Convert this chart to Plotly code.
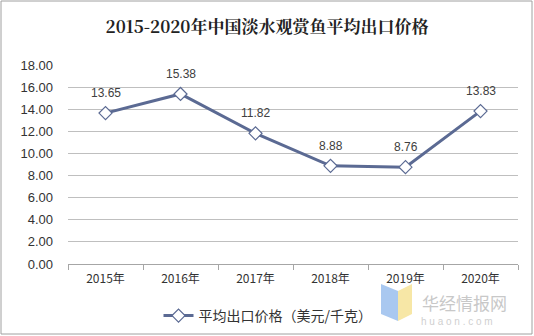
import plotly.graph_objects as go

years = ["2015年", "2016年", "2017年", "2018年", "2019年", "2020年"]
prices = [13.65, 15.38, 11.82, 8.88, 8.76, 13.83]
labels = ["13.65", "15.38", "11.82", "8.88", "8.76", "13.83"]
y_ticks = [0, 2, 4, 6, 8, 10, 12, 14, 16, 18]
series_name = "平均出口价格（美元/千克）"

W, H = 534, 336
L, R, T, B = 68, 16, 65, 72
pw, ph = W - L - R, H - T - B

def px_x(p):
    return (p - L) / pw

def px_y(p):
    return (H - B - p) / ph

line_color = "#5B6A93"
font = "Liberation Sans, Arial, sans-serif"
cjk = "Noto Sans CJK SC, sans-serif"

fig = go.Figure()
fig.add_trace(go.Scatter(
    x=years, y=prices, mode="lines+markers",
    name=series_name,
    line=dict(color=line_color, width=3),
    marker=dict(symbol="diamond", size=10, color="white",
                line=dict(color=line_color, width=1.2)),
    cliponaxis=False,
))

annotations = [
    dict(x=xv, y=yv, text=t, xref="x", yref="y", showarrow=False,
         yshift=20, font=dict(family=font, size=12, color="#404040"))
    for xv, yv, t in zip(years, prices, labels)
]
annotations += [
    dict(text="华经情报网", xref="paper", yref="paper",
         x=px_x(421), xanchor="left", y=px_y(289), yanchor="top",
         showarrow=False, borderpad=0,
         font=dict(family=cjk, size=17, color="#C8C8C8")),
    dict(text="h u a o n . c o m", xref="paper", yref="paper",
         x=px_x(420), xanchor="left", y=px_y(315), yanchor="top",
         showarrow=False, borderpad=0,
         font=dict(family=font, size=10, color="#D0D0D0")),
]

fig.update_layout(
    width=W, height=H,
    margin=dict(l=L, r=R, t=T, b=B, autoexpand=False),
    paper_bgcolor="white", plot_bgcolor="white",
    title=dict(text="<b>2015-2020年中国淡水观赏鱼平均出口价格</b>",
               x=0.5, xanchor="center", y=1 - 27 / H, yanchor="middle",
               font=dict(family="Noto Serif CJK SC, Noto Sans CJK SC, serif", size=17, color="#222222")),
    showlegend=True,
    legend=dict(orientation="h", x=px_x(268), xanchor="center",
                y=px_y(316), yanchor="middle",
                font=dict(family=cjk, size=14, color="#333333"),
                bgcolor="rgba(0,0,0,0)"),
    xaxis=dict(type="category", range=[-0.5, 5.5], showgrid=False,
               showline=True, linecolor="#A6A6A6", linewidth=1,
               ticks="outside", ticklen=5, tickcolor="#A6A6A6",
               tickson="boundaries", ticklabelstandoff=4,
               tickfont=dict(family=cjk, size=12, color="#333333")),
    yaxis=dict(range=[0, 18], tickvals=y_ticks,
               ticktext=[f"{v:.2f}" for v in y_ticks],
               showgrid=True, gridcolor="#BFBFBF", gridwidth=1,
               zeroline=False, showline=False, ticks="",
               ticklabelstandoff=14,
               tickfont=dict(family=font, size=13, color="#333333")),
    shapes=[
        dict(type="rect", xref="paper", yref="paper",
             x0=px_x(1), x1=px_x(532), y0=px_y(334), y1=px_y(1),
             line=dict(color="#A0A0A0", width=1), layer="below"),
        dict(type="path", xref="paper", yref="paper",
             path=f"M {px_x(381)} {px_y(284)} L {px_x(398)} {px_y(291)} L {px_x(398)} {px_y(321)} L {px_x(381)} {px_y(314)} Z",
             fillcolor="#A9C8F0", line=dict(width=0)),
        dict(type="path", xref="paper", yref="paper",
             path=f"M {px_x(398)} {px_y(291)} L {px_x(412)} {px_y(284)} L {px_x(412)} {px_y(314)} L {px_x(398)} {px_y(321)} Z",
             fillcolor="#F7E7A6", line=dict(width=0)),
    ],
    annotations=annotations,
)

fig.write_html("out.html")
